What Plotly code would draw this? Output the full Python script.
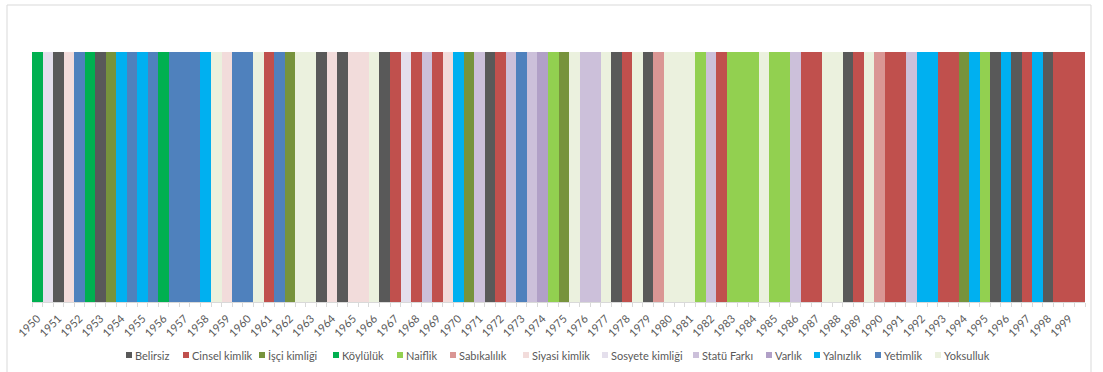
import plotly.graph_objects as go

# ---------------- data ----------------
years = [str(y) for y in range(1950, 2000)]

categories = ["Belirsiz", "Cinsel kimlik", "İşçi kimliği", "Köylülük", "Naiflik",
              "Sabıkalılık", "Siyasi kimlik", "Sosyete kimliği", "Statü Farkı",
              "Varlık", "Yalnızlık", "Yetimlik", "Yoksulluk"]

# one entry per film slot (two slots per year label), read left to right
slot_categories = [
    "Köylülük", "Sosyete kimliği", "Belirsiz", "Siyasi kimlik", "Yetimlik",
    "Köylülük", "Belirsiz", "İşçi kimliği", "Yalnızlık", "Yetimlik",
    "Yalnızlık", "Yetimlik", "Köylülük", "Yetimlik", "Yetimlik",
    "Yetimlik", "Yalnızlık", "Yoksulluk", "Siyasi kimlik", "Yetimlik",
    "Yetimlik", "Yoksulluk", "Cinsel kimlik", "Yetimlik", "İşçi kimliği",
    "Yoksulluk", "Yoksulluk", "Belirsiz", "Siyasi kimlik", "Belirsiz",
    "Siyasi kimlik", "Siyasi kimlik", "Yoksulluk", "Belirsiz", "Cinsel kimlik",
    "Sosyete kimliği", "Cinsel kimlik", "Statü Farkı", "Cinsel kimlik", "Siyasi kimlik",
    "Yalnızlık", "İşçi kimliği", "Statü Farkı", "Belirsiz", "Cinsel kimlik",
    "Statü Farkı", "Yetimlik", "Statü Farkı", "Varlık", "Naiflik",
    "İşçi kimliği", "Yoksulluk", "Statü Farkı", "Statü Farkı", "Yoksulluk",
    "Belirsiz", "Cinsel kimlik", "Yoksulluk", "Belirsiz", "Sabıkalılık",
    "Yoksulluk", "Yoksulluk", "Yoksulluk", "Naiflik", "Statü Farkı",
    "Cinsel kimlik", "Naiflik", "Naiflik", "Naiflik", "Yoksulluk",
    "Naiflik", "Naiflik", "Statü Farkı", "Cinsel kimlik", "Cinsel kimlik",
    "Yoksulluk", "Yoksulluk", "Belirsiz", "Cinsel kimlik", "Yoksulluk",
    "Sabıkalılık", "Cinsel kimlik", "Cinsel kimlik", "Statü Farkı", "Yalnızlık",
    "Yalnızlık", "Cinsel kimlik", "Cinsel kimlik", "İşçi kimliği", "Yalnızlık",
    "Naiflik", "Belirsiz", "Yalnızlık", "Belirsiz", "Cinsel kimlik",
    "Yalnızlık", "Belirsiz", "Cinsel kimlik", "Cinsel kimlik", "Cinsel kimlik",
]

slot_values = [
    1, 1, 1, 1, 1, 1, 1, 1, 1, 1, 1, 1, 1, 1, 1, 1, 1, 1, 1, 1,
    1, 1, 1, 1, 1, 1, 1, 1, 1, 1, 1, 1, 1, 1, 1, 1, 1, 1, 1, 1,
    1, 1, 1, 1, 1, 1, 1, 1, 1, 1, 1, 1, 1, 1, 1, 1, 1, 1, 1, 1,
    1, 1, 1, 1, 1, 1, 1, 1, 1, 1, 1, 1, 1, 1, 1, 1, 1, 1, 1, 1,
    1, 1, 1, 1, 1, 1, 1, 1, 1, 1, 1, 1, 1, 1, 1, 1, 1, 1, 1, 1,
]

# ---------------- style ----------------
colors = {
    "Belirsiz": "#595959",
    "Cinsel kimlik": "#C0504D",
    "İşçi kimliği": "#77933C",
    "Köylülük": "#00B050",
    "Naiflik": "#92D050",
    "Sabıkalılık": "#DA9694",
    "Siyasi kimlik": "#F2DCDB",
    "Sosyete kimliği": "#E4DFEC",
    "Statü Farkı": "#CCC0DA",
    "Varlık": "#B1A0C7",
    "Yalnızlık": "#00B0F0",
    "Yetimlik": "#4F81BD",
    "Yoksulluk": "#EBF1DE",
}

W, H = 1103, 372
ML, MR, MT, MB = 32, 18, 52, 70
PW, PH = W - ML - MR, H - MT - MB
FONT = "Lato, 'Liberation Sans', sans-serif"
TXT = "#595959"


def px_x(px):
    return (px - ML) / PW


def px_y(py):
    return (H - MB - py) / PH


fig = go.Figure()
n_slots = len(slot_categories)
for cat in categories:
    xs = [i + 0.5 for i in range(n_slots) if slot_categories[i] == cat]
    ys = [slot_values[i] for i in range(n_slots) if slot_categories[i] == cat]
    fig.add_trace(go.Bar(
        x=xs, y=ys, name=cat, width=1,
        marker=dict(color=colors[cat], line=dict(width=0)),
        showlegend=False,
    ))

# manual legend (Excel-like compact layout)
legend_left_px = [126, 183, 259, 333, 397, 450, 523, 602, 693, 766, 814, 875, 935]
legend_cy = 355
shapes = []
annotations = []
for cat, lx in zip(categories, legend_left_px):
    shapes.append(dict(type="rect", xref="paper", yref="paper",
                       x0=px_x(lx), x1=px_x(lx + 6),
                       y0=px_y(legend_cy + 3), y1=px_y(legend_cy - 3),
                       fillcolor=colors[cat], line=dict(width=0)))
    annotations.append(dict(xref="paper", yref="paper",
                            x=px_x(lx + 7), y=px_y(legend_cy),
                            xanchor="left", yanchor="middle",
                            text=cat, showarrow=False,
                            font=dict(family=FONT, size=11, color=TXT)))

# outer chart border
shapes.append(dict(type="rect", xref="paper", yref="paper",
                   x0=px_x(7), x1=px_x(1091), y0=px_y(390), y1=px_y(5),
                   line=dict(color="#D9D9D9", width=1), fillcolor="rgba(0,0,0,0)",
                   layer="below"))

fig.update_layout(
    width=W, height=H,
    margin=dict(l=ML, r=MR, t=MT, b=MB, pad=0),
    paper_bgcolor="white", plot_bgcolor="white",
    barmode="overlay", bargap=0,
    font=dict(family=FONT, size=11, color=TXT),
    shapes=shapes, annotations=annotations,
    xaxis=dict(
        range=[0, n_slots], showgrid=False, zeroline=False,
        showline=True, linecolor="#D9D9D9", linewidth=1,
        tickmode="array",
        tickvals=[2 * j + 0.5 for j in range(len(years))],
        ticktext=years, tickangle=-45, ticks="",
        ticklabelstandoff=5,
        tickfont=dict(family=FONT, size=11, color=TXT),
        minor=dict(ticks="outside", tick0=0, dtick=1, ticklen=4,
                   tickcolor="#D9D9D9", tickwidth=1, showgrid=False),
        fixedrange=True,
    ),
    yaxis=dict(range=[0, 1], visible=False, fixedrange=True),
)

fig.write_html("out.html")
